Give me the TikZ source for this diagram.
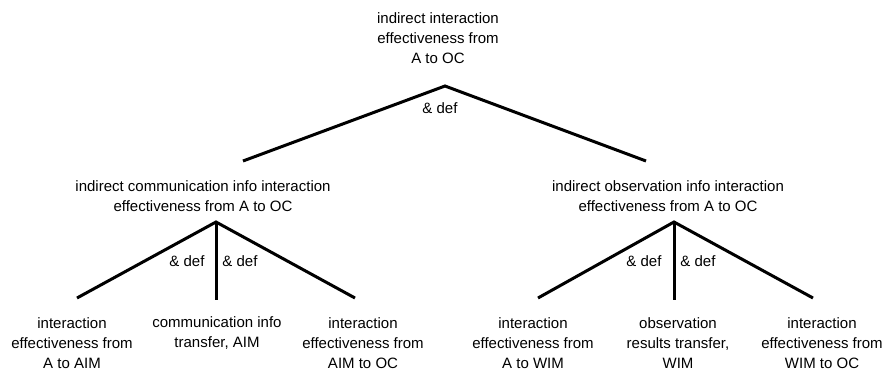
\documentclass[tikz,border=0pt]{standalone}
\usepackage{fontspec}
\setmainfont{Liberation Sans}
\begin{document}
\begin{tikzpicture}[x=1bp,y=-1bp,
  lbl/.style={align=center,inner sep=0pt,font=\fontsize{15bp}{20bp}\selectfont},
  andlbl/.style={inner sep=0pt,font=\fontsize{15bp}{20bp}\selectfont},
  leg/.style={line width=3bp}]
\useasboundingbox (0,0) rectangle (891,373);

% top goal
\node[lbl] (top) at (438,38) {indirect interaction\\effectiveness from\\A to OC};
\coordinate (topapex) at (445,86);
\coordinate (topL) at (243,161);
\coordinate (topR) at (646,161);
\draw[leg] (topL) -- (topapex) -- (topR);
\node[andlbl] (topand) at (440,108) {\& def};

% communication branch
\node[lbl] (l) at (203,196) {indirect communication info interaction\\effectiveness from A to OC};
\coordinate (lapex) at (216,222);
\coordinate (lL) at (77,298);
\coordinate (lM) at (216,300);
\coordinate (lR) at (355,298);
\draw[leg] (lL) -- (lapex) -- (lR);
\draw[leg] (lapex) -- (lM);
\node[andlbl] (land1) at (187,261) {\& def};
\node[andlbl] (land2) at (240,261) {\& def};
\node[lbl] (l1) at (72,343) {interaction\\effectiveness from\\A to AIM};
\node[lbl] (l2) at (217,333) {communication info\\transfer, AIM};
\node[lbl] (l3) at (363,343) {interaction\\effectiveness from\\AIM to OC};

% observation branch
\node[lbl] (r) at (668,196) {indirect observation info interaction\\effectiveness from A to OC};
\coordinate (rapex) at (674,222);
\coordinate (rL) at (538,298);
\coordinate (rM) at (674,300);
\coordinate (rR) at (813,298);
\draw[leg] (rL) -- (rapex) -- (rR);
\draw[leg] (rapex) -- (rM);
\node[andlbl] (rand1) at (644,261) {\& def};
\node[andlbl] (rand2) at (698,261) {\& def};
\node[lbl] (r1) at (533,343) {interaction\\effectiveness from\\A to WIM};
\node[lbl] (r2) at (678,343) {observation\\results transfer,\\WIM};
\node[lbl] (r3) at (822,343) {interaction\\effectiveness from\\WIM to OC};
\end{tikzpicture}
\end{document}
